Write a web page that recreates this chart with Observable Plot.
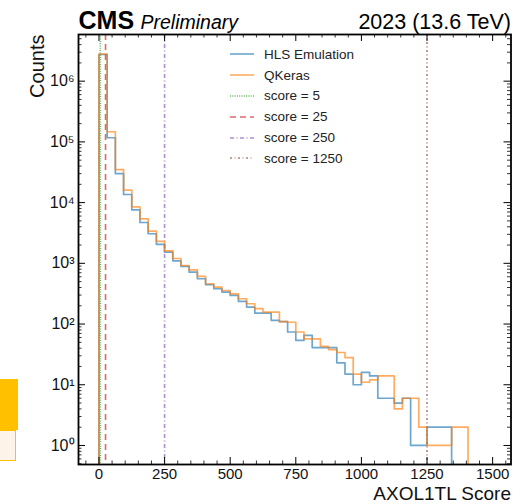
<!DOCTYPE html>
<html><head><meta charset="utf-8">
<script src="https://cdn.jsdelivr.net/npm/d3@7"></script>
<script src="https://cdn.jsdelivr.net/npm/@observablehq/plot@0.6"></script>
<style>
body{margin:0;background:#fff;font-family:"Liberation Sans",Arial,Helvetica,sans-serif;}
#wrap{position:relative;width:529px;height:504px;overflow:hidden;background:#fff;}
#legend{position:absolute;left:229px;top:44px;font-size:13.5px;color:#222;}
#legend .row{height:20.8px;display:flex;align-items:center;white-space:nowrap;}
#legend svg{width:26px;height:10px;margin-right:9px;}
.deco1{position:absolute;left:0;top:379px;width:18px;height:51px;background:#ffc000;}
.deco2{position:absolute;left:0;top:430px;width:15px;height:29px;background:#fdf3e8;border:1.5px solid #ffc000;border-left:none;}
</style></head><body><div id="wrap"><div class="deco1"></div><div class="deco2"></div></div>
<script>
// ---- data ----
const binWidth = 31.25;
const hlsCounts = [2.75e6, 1.17e5, 3.0e4, 1.36e4, 7.6e3, 4.7e3, 3.07e3, 2.05e3, 1.53e3, 1.1e3,
  890, 716, 557, 444, 381, 336, 296, 236, 190, 151,
  151, 115, 110, 74, 54, 65, 41, 41, 41, 23,
  15, 10, 16, 14, 6, 6, 5, 6, 1, 1,
  2, 2, 2];
const qkerasCounts = [2.8e6, 1.47e5, 3.5e4, 1.6e4, 8.5e3, 5.4e3, 3.4e3, 2.3e3, 1.6e3, 1.2e3,
  920, 780, 608, 461, 405, 357, 315, 261, 216, 179,
  157, 157, 110, 107, 74, 57, 57, 43, 38, 34,
  28, 15, 11, 12, 14, 14, 4, 6, 6, 2,
  1, 1, 1, 2, 2];
const seriesNames = ["HLS Emulation", "QKeras"];
const thresholdScores = [5, 25, 250, 1250];
const thresholdNames = ["score = 5", "score = 25", "score = 250", "score = 1250"];
const xTickValues = [0, 250, 500, 750, 1000, 1250, 1500];
const yTickValues = [1, 10, 100, 1000, 1e4, 1e5, 1e6];
const xDomain = [-78, 1570];
const yDomain = [0.486, 5.87e6];

// ---- styles ----
const W = 529, H = 504, mL = 78, mR = 18.5, mT = 34, mB = 40;
const plotW = W - mL - mR, plotH = H - mT - mB;
const seriesColors = ["rgba(31,119,180,0.65)", "rgba(255,127,14,0.65)"];
const thrStyles = [
  {stroke: "rgba(44,160,44,0.75)", dash: "1,1.3"},
  {stroke: "rgba(214,39,40,0.7)", dash: "6,4"},
  {stroke: "rgba(148,103,189,0.75)", dash: "4,2.5,1,2.5"},
  {stroke: "rgba(140,86,75,0.75)", dash: "2,2.6,0.8,2.6"}
];

function stepPoints(counts) {
  const pts = [{x: 0, y: yDomain[0]}];
  counts.forEach((c, i) => pts.push({x: i * binWidth, y: c}));
  pts.push({x: counts.length * binWidth, y: yDomain[0]});
  return pts;
}
const sup = {"-":"⁻","0":"⁰","1":"¹","2":"²","3":"³","4":"⁴","5":"⁵","6":"⁶","7":"⁷","8":"⁸","9":"⁹"};
const fmtPow = d => "10" + String(Math.round(Math.log10(d))).split("").map(c => sup[c]).join("");

const xMinor = d3.range(-50, 1570, 50).filter(v => v % 250 !== 0);
const yMinor = [];
for (let e = -1; e <= 6; e++) for (let m = 2; m <= 9; m++) {
  const v = m * Math.pow(10, e);
  if (v > yDomain[0] && v < yDomain[1]) yMinor.push(v);
}

const marks = [];
thresholdScores.forEach((s, i) => marks.push(Plot.ruleX([s], {
  stroke: thrStyles[i].stroke, strokeWidth: 1.6, strokeDasharray: thrStyles[i].dash
})));
marks.push(Plot.line(stepPoints(hlsCounts), {x: "x", y: "y", curve: "step-after", stroke: seriesColors[0], strokeWidth: 1.7, clip: true}));
marks.push(Plot.line(stepPoints(qkerasCounts), {x: "x", y: "y", curve: "step-after", stroke: seriesColors[1], strokeWidth: 1.7, clip: true}));
// inward ticks
marks.push(Plot.tickX(xTickValues, {x: d => d, insetTop: plotH - 7, stroke: "black", strokeWidth: 1}));
marks.push(Plot.tickX(xTickValues, {x: d => d, insetBottom: plotH - 7, stroke: "black", strokeWidth: 1}));
marks.push(Plot.tickX(xMinor, {x: d => d, insetTop: plotH - 3.5, stroke: "black", strokeWidth: 0.8}));
marks.push(Plot.tickX(xMinor, {x: d => d, insetBottom: plotH - 3.5, stroke: "black", strokeWidth: 0.8}));
marks.push(Plot.tickY(yTickValues, {y: d => d, insetRight: plotW - 7, stroke: "black", strokeWidth: 1}));
marks.push(Plot.tickY(yTickValues, {y: d => d, insetLeft: plotW - 7, stroke: "black", strokeWidth: 1}));
marks.push(Plot.tickY(yMinor, {y: d => d, insetRight: plotW - 3.5, stroke: "black", strokeWidth: 0.8}));
marks.push(Plot.tickY(yMinor, {y: d => d, insetLeft: plotW - 3.5, stroke: "black", strokeWidth: 0.8}));
marks.push(Plot.frame({stroke: "black", strokeWidth: 1.8}));
marks.push(Plot.axisX({ticks: xTickValues, tickSize: 0, tickPadding: 4, label: null, fontSize: 15, tickFormat: d => String(d)}));
marks.push(Plot.axisY({ticks: yTickValues, tickSize: 0, tickPadding: 4, label: null, fontSize: 16, tickFormat: fmtPow}));
marks.push(Plot.text(["AXOL1TL Score"], {frameAnchor: "bottom-right", dy: 29.8, textAnchor: "end", lineAnchor: "middle", fontSize: 19, fill: "#111"}));
marks.push(Plot.text(["Counts"], {frameAnchor: "top-left", dx: -41, rotate: -90, textAnchor: "end", lineAnchor: "middle", fontSize: 20, fill: "#111"}));
marks.push(Plot.text(["CMS"], {frameAnchor: "top-left", dy: -6, textAnchor: "start", lineAnchor: "bottom", fontSize: 25, fontWeight: "bold", fill: "#000"}));
marks.push(Plot.text(["Preliminary"], {frameAnchor: "top-left", dx: 62, dy: -6, textAnchor: "start", lineAnchor: "bottom", fontSize: 19.5, fontStyle: "italic", fill: "#000"}));
marks.push(Plot.text(["2023 (13.6 TeV)"], {frameAnchor: "top-right", dy: -6, textAnchor: "end", lineAnchor: "bottom", fontSize: 21.5, fill: "#000"}));

const chart = Plot.plot({
  width: W, height: H,
  marginLeft: mL, marginRight: mR, marginTop: mT, marginBottom: mB,
  style: {fontFamily: '"Liberation Sans", Arial, Helvetica, sans-serif', background: "transparent", color: "#111"},
  x: {domain: xDomain, axis: null},
  y: {type: "log", domain: yDomain, axis: null},
  marks
});
chart.style.position = "absolute";
chart.style.left = "0px";
chart.style.top = "0px";
const wrap = document.getElementById("wrap");
wrap.appendChild(chart);

// legend
const legend = document.createElement("div");
legend.id = "legend";
const entries = seriesNames.map((n, i) => ({name: n, stroke: seriesColors[i], dash: null}))
  .concat(thresholdNames.map((n, i) => ({name: n, stroke: thrStyles[i].stroke, dash: thrStyles[i].dash})));
entries.forEach(e => {
  const row = document.createElement("div");
  row.className = "row";
  row.innerHTML = `<svg viewBox="0 0 26 10"><line x1="1" y1="5" x2="25" y2="5" stroke="${e.stroke}" stroke-width="1.6" ${e.dash ? `stroke-dasharray="${e.dash}"` : ""}/></svg><span>${e.name}</span>`;
  legend.appendChild(row);
});
wrap.appendChild(legend);
</script></body></html>
